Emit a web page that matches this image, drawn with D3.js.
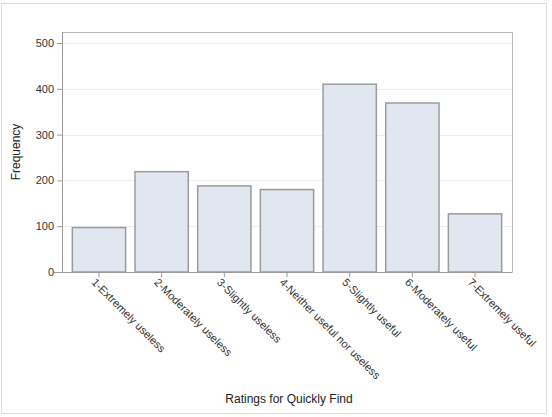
<!DOCTYPE html>
<html lang="en">
  <head>
    <meta charset="UTF-8" />
    <title>Ratings for Quickly Find</title>
    <style>
      body {
        margin: 0;
        background: #fff;
        font-family: "Liberation Sans", Arial, sans-serif;
      }
      .grid line {
        stroke: #ececec;
      }
      .axis text {
        fill: #333;
        font-size: 11px;
      }
      .axis path,
      .axis line {
        stroke: #999;
      }
      .bar {
        fill: #e1e7f0;
        stroke: #9b9b9b;
        stroke-width: 1.5px;
      }
      .title {
        fill: #222;
        font-size: 12px;
      }
    </style>
  </head>
  <body>
    <svg width="552" height="417"></svg>

    <script src="https://d3js.org/d3.v7.min.js"></script>
    <script>
      // values
      const categories = [
        "1-Extremely useless",
        "2-Moderately useless",
        "3-Slightly useless",
        "4-Neither useful nor useless",
        "5-Slightly useful",
        "6-Moderately useful",
        "7-Extremely useful",
      ];
      const frequencies = [97, 219, 188, 180, 410, 369, 127];
      const yTicks = [0, 100, 200, 300, 400, 500];

      const width = 552,
        height = 417;
      const margin = { top: 32, right: 40, bottom: 145, left: 62 };
      const plotW = width - margin.left - margin.right;
      const plotH = height - margin.top - margin.bottom;

      const svg = d3.select("svg");

      // outer frame
      svg
        .append("rect")
        .attr("x", 1.5)
        .attr("y", 3.5)
        .attr("width", 545)
        .attr("height", 410)
        .attr("fill", "none")
        .attr("stroke", "#dcdcdc");

      const g = svg
        .append("g")
        .attr("transform", `translate(${margin.left},${margin.top})`);

      const x = d3
        .scaleBand()
        .domain(categories)
        .range([0, plotW])
        .paddingInner(0.15)
        .paddingOuter(0.165);

      const y = d3.scaleLinear().domain([0, 524]).range([plotH, 0]);

      // gridlines
      g.append("g")
        .attr("class", "grid")
        .selectAll("line")
        .data(yTicks.slice(1))
        .join("line")
        .attr("x1", 0)
        .attr("x2", plotW)
        .attr("y1", (d) => Math.round(y(d)) + 0.5)
        .attr("y2", (d) => Math.round(y(d)) + 0.5);

      // top and right frame
      g.append("path")
        .attr("d", `M0.5,0.5H${plotW + 0.5}V${plotH}`)
        .attr("fill", "none")
        .attr("stroke", "#b8b8b8");

      g.selectAll(".bar")
        .data(frequencies)
        .join("rect")
        .attr("class", "bar")
        .attr("x", (d, i) => x(categories[i]))
        .attr("y", (d) => y(d))
        .attr("width", x.bandwidth())
        .attr("height", (d) => plotH - y(d));

      const yAxis = g
        .append("g")
        .attr("class", "axis")
        .call(
          d3.axisLeft(y).tickValues(yTicks).tickSize(5).tickSizeOuter(0)
        );
      yAxis.select(".domain").attr("d", `M0.5,0V${plotH}`);

      const xAxis = g
        .append("g")
        .attr("class", "axis")
        .attr("transform", `translate(0,${plotH})`)
        .call(d3.axisBottom(x).tickSize(5).tickSizeOuter(0));
      xAxis.select(".domain").attr("d", `M-8,0.5H${plotW + 0.5}`);
      xAxis
        .selectAll("text")
        .attr("text-anchor", "start")
        .attr("dy", null)
        .attr("transform", "translate(-6,9) rotate(45)")
        .attr("y", 0)
        .attr("x", 0)
        .attr("dominant-baseline", "middle");

      svg
        .append("text")
        .attr("class", "title")
        .attr("x", 289)
        .attr("y", 403)
        .attr("text-anchor", "middle")
        .text("Ratings for Quickly Find");

      svg
        .append("text")
        .attr("class", "title")
        .attr("transform", `translate(20,${margin.top + plotH / 2}) rotate(-90)`)
        .attr("text-anchor", "middle")
        .text("Frequency");
    </script>
  </body>
</html>
